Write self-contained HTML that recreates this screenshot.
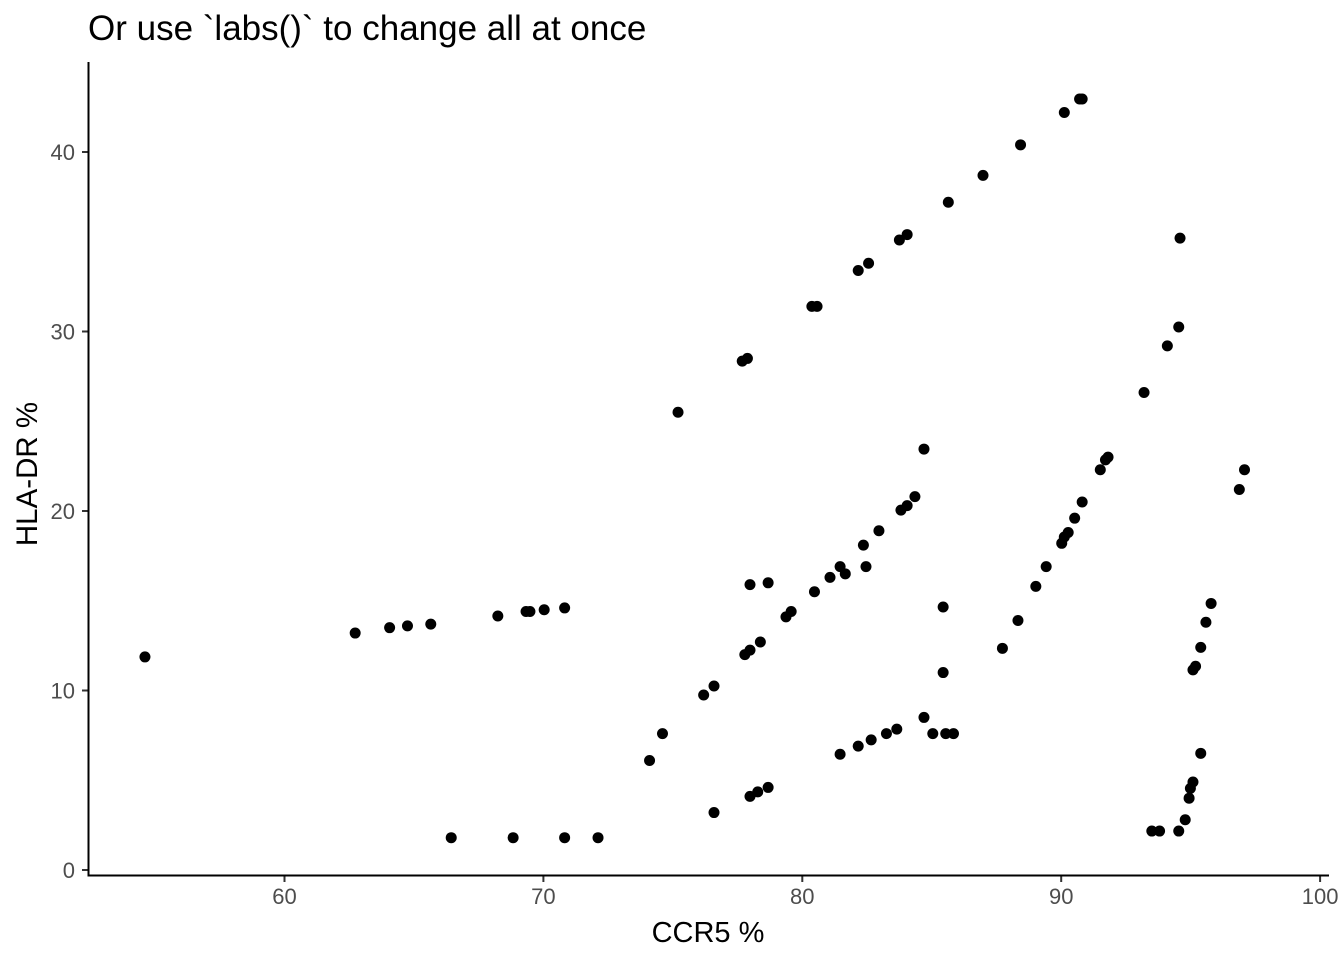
<!DOCTYPE html>
<html><head><meta charset="utf-8"><style>
body{margin:0;background:#fff;}
svg text{font-family:"Liberation Sans",sans-serif;}
</style></head><body>
<svg id="chart" width="1344" height="960" xmlns="http://www.w3.org/2000/svg">
<rect width="1344" height="960" fill="#fff"/>
<text x="88" y="40" font-size="35" fill="#000">Or use `labs()` to change all at once</text>
<g id="ticks"></g>
<g id="points"></g>
<line x1="88.5" y1="62" x2="88.5" y2="876" stroke="#000" stroke-width="2"/>
<line x1="87.5" y1="875.5" x2="1329" y2="875.5" stroke="#000" stroke-width="2"/>
<text x="708" y="942" font-size="29" text-anchor="middle" fill="#000">CCR5 %</text>
<text transform="translate(37,474) rotate(-90)" font-size="29.5" text-anchor="middle" fill="#000">HLA-DR %</text>
</svg>
<script>
const xTicks=[60,70,80,90,100];
const yTicks=[0,10,20,30,40];
const ccr5=[54.61,62.73,64.06,64.75,65.65,68.24,69.33,69.48,70.03,70.82,66.44,68.83,70.82,72.11,74.1,74.6,75.2,76.19,76.59,76.59,77.68,77.88,77.78,77.98,77.98,77.98,78.28,78.68,78.38,78.68,79.37,79.57,80.37,80.57,80.47,81.07,81.46,81.66,81.46,82.16,82.66,82.16,82.56,82.36,82.46,82.96,83.25,83.65,83.75,84.05,83.81,84.05,84.35,84.7,84.7,85.04,85.44,85.44,85.54,85.84,85.64,86.98,87.73,88.33,88.43,89.02,89.42,90.02,90.12,90.27,90.12,90.52,90.71,90.81,90.81,91.51,91.71,91.81,93.2,93.5,93.8,94.1,94.54,94.59,94.54,94.79,94.94,94.99,95.09,95.39,95.09,95.19,95.39,95.59,95.79,96.88,97.08];
const hladr=[11.87,13.2,13.5,13.6,13.7,14.15,14.4,14.4,14.5,14.6,1.8,1.8,1.8,1.8,6.1,7.6,25.5,9.75,10.25,3.2,28.35,28.5,12.0,12.25,15.9,4.1,4.35,4.6,12.7,16.0,14.1,14.4,31.4,31.4,15.5,16.3,16.9,16.5,6.45,6.9,7.25,33.4,33.8,18.1,16.9,18.9,7.6,7.85,35.1,35.4,20.05,20.3,20.8,23.45,8.5,7.6,14.65,11.0,7.6,7.6,37.2,38.7,12.35,13.9,40.4,15.8,16.9,18.2,18.55,18.8,42.2,19.6,42.95,42.95,20.5,22.3,22.85,23.0,26.6,2.17,2.17,29.2,30.25,35.2,2.17,2.8,4.0,4.55,4.9,6.5,11.15,11.35,12.4,13.8,14.85,21.2,22.3];
const NS="http://www.w3.org/2000/svg";
function sx(v){return 284.5+(v-60)*25.89;}
function sy(v){return 870-v*17.95;}
const tg=document.getElementById('ticks');
xTicks.forEach(t=>{
  const l=document.createElementNS(NS,'line');
  
  
  l.setAttribute('x1',sx(t));l.setAttribute('x2',sx(t));l.setAttribute('y1',876);l.setAttribute('y2',882);
  l.setAttribute('stroke','#333');l.setAttribute('stroke-width','2');tg.appendChild(l);
  const tx=document.createElementNS(NS,'text');
  
  
  tx.setAttribute('x',sx(t));tx.setAttribute('y',904);tx.setAttribute('text-anchor','middle');
  tx.setAttribute('font-size','22');tx.setAttribute('fill','#4d4d4d');tx.textContent=t;tg.appendChild(tx);
});
yTicks.forEach(t=>{
  const l=document.createElementNS(NS,'line');
  
  
  l.setAttribute('x1',82);l.setAttribute('x2',88);l.setAttribute('y1',sy(t));l.setAttribute('y2',sy(t));
  l.setAttribute('stroke','#333');l.setAttribute('stroke-width','2');tg.appendChild(l);
  const tx=document.createElementNS(NS,'text');
  
  
  tx.setAttribute('x',75);tx.setAttribute('y',sy(t)+8);tx.setAttribute('text-anchor','end');
  tx.setAttribute('font-size','22');tx.setAttribute('fill','#4d4d4d');tx.textContent=t;tg.appendChild(tx);
});
const pg=document.getElementById('points');
ccr5.forEach((x,i)=>{
  const c=document.createElementNS(NS,'circle');
  
  
  c.setAttribute('cx',sx(x));c.setAttribute('cy',sy(hladr[i]));c.setAttribute('r',5.5);c.setAttribute('fill','#000');
  pg.appendChild(c);
});
</script>
</body></html>
